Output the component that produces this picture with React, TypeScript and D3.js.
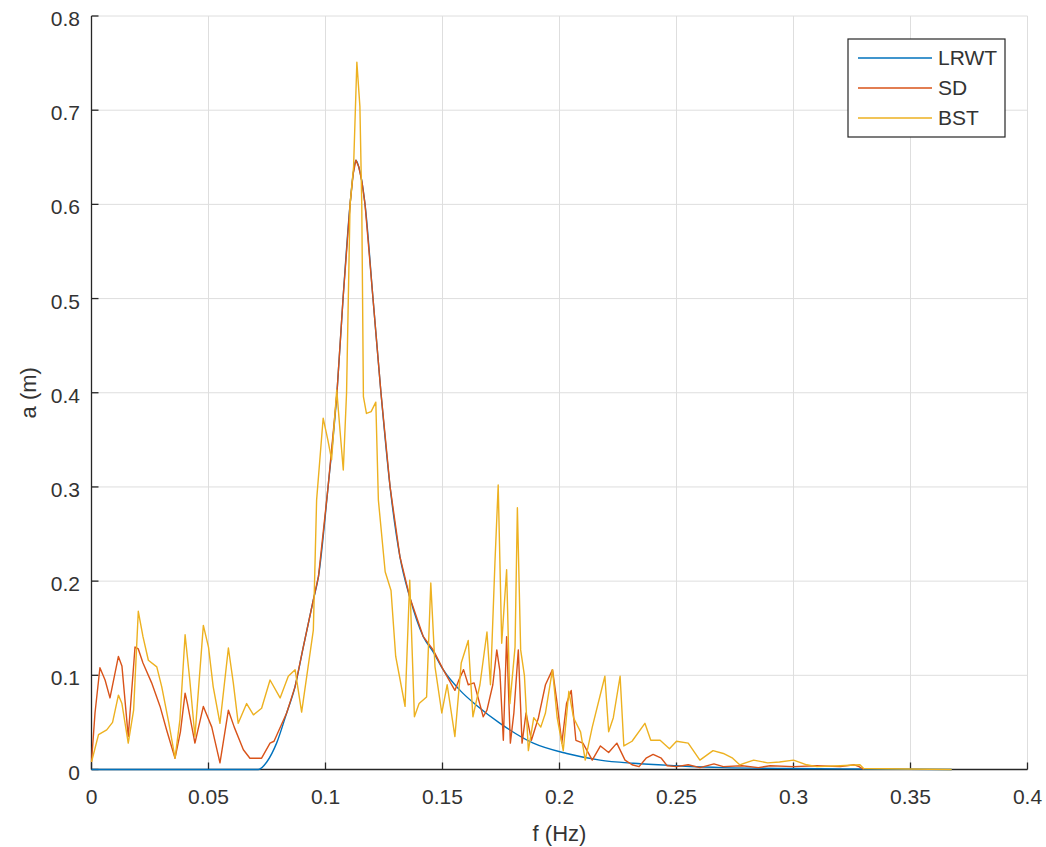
import React from "react";
import * as d3 from "d3";

// ---------- data ----------
const xTicks = [0, 0.05, 0.1, 0.15, 0.2, 0.25, 0.3, 0.35, 0.4];
const yTicks = [0, 0.1, 0.2, 0.3, 0.4, 0.5, 0.6, 0.7, 0.8];
const seriesNames = ["LRWT", "SD", "BST"];
const seriesColors = ["#0072BD", "#D95319", "#EDB120"];

const lrwtFreq = [0, 0.0713, 0.0749, 0.0791, 0.0834, 0.087, 0.0905, 0.0948, 0.097, 0.1011, 0.1049, 0.1075, 0.1105, 0.1118, 0.113, 0.1142, 0.1155, 0.1169, 0.1203, 0.1237, 0.1276, 0.1318, 0.136, 0.1418, 0.146, 0.1503, 0.1575, 0.1646, 0.1746, 0.1888, 0.2031, 0.2173, 0.2315, 0.25, 0.27, 0.3, 0.33, 0.3676];
const lrwtAmp = [0, 0, 0.008, 0.028, 0.06, 0.088, 0.13, 0.18, 0.205, 0.3, 0.4, 0.5, 0.6, 0.632, 0.647, 0.64, 0.625, 0.6, 0.5, 0.4, 0.3, 0.226, 0.183, 0.141, 0.125, 0.106, 0.084, 0.068, 0.049, 0.028, 0.017, 0.01, 0.0066, 0.004, 0.002, 0.001, 0.0005, 0];

const sdFreq = [0, 0.0015, 0.0036, 0.0058, 0.0079, 0.0115, 0.013, 0.0157, 0.0186, 0.02, 0.022, 0.0257, 0.0293, 0.0321, 0.0357, 0.038, 0.04, 0.041, 0.0442, 0.0478, 0.0514, 0.0549, 0.0585, 0.061, 0.0649, 0.0677, 0.0727, 0.0763, 0.078, 0.0834, 0.087, 0.0905, 0.0948, 0.097, 0.1011, 0.1049, 0.1075, 0.1105, 0.1118, 0.113, 0.1142, 0.1155, 0.1169, 0.1203, 0.1237, 0.1276, 0.1318, 0.136, 0.1418, 0.146, 0.1503, 0.1553, 0.157, 0.159, 0.161, 0.1635, 0.1674, 0.169, 0.1715, 0.1732, 0.1745, 0.176, 0.1774, 0.179, 0.1805, 0.1824, 0.184, 0.1857, 0.188, 0.191, 0.194, 0.197, 0.199, 0.201, 0.203, 0.205, 0.207, 0.21, 0.214, 0.2175, 0.221, 0.2245, 0.228, 0.231, 0.234, 0.237, 0.24, 0.2435, 0.246, 0.25, 0.255, 0.26, 0.266, 0.27, 0.278, 0.285, 0.29, 0.3, 0.31, 0.32, 0.326, 0.328, 0.33];
const sdAmp = [0.008, 0.06, 0.108, 0.095, 0.076, 0.12, 0.11, 0.035, 0.13, 0.128, 0.113, 0.092, 0.067, 0.042, 0.012, 0.04, 0.081, 0.07, 0.028, 0.067, 0.045, 0.007, 0.063, 0.045, 0.021, 0.012, 0.012, 0.028, 0.03, 0.06, 0.088, 0.13, 0.18, 0.205, 0.3, 0.4, 0.5, 0.6, 0.632, 0.647, 0.64, 0.625, 0.6, 0.5, 0.4, 0.3, 0.226, 0.183, 0.141, 0.127, 0.106, 0.084, 0.095, 0.106, 0.09, 0.092, 0.056, 0.063, 0.09, 0.127, 0.105, 0.031, 0.141, 0.028, 0.06, 0.127, 0.028, 0.06, 0.031, 0.055, 0.09, 0.106, 0.07, 0.028, 0.07, 0.084, 0.031, 0.028, 0.01, 0.025, 0.018, 0.028, 0.01, 0.005, 0.003, 0.012, 0.016, 0.012, 0.004, 0.003, 0.005, 0.002, 0.006, 0.003, 0.004, 0.002, 0.004, 0.003, 0.004, 0.003, 0.005, 0.003, 0];

const bstFreq = [0, 0.003, 0.0065, 0.009, 0.0115, 0.013, 0.0157, 0.018, 0.02, 0.022, 0.0243, 0.0279, 0.03, 0.033, 0.0357, 0.0378, 0.04, 0.042, 0.0442, 0.0478, 0.05, 0.052, 0.0549, 0.0585, 0.0606, 0.0627, 0.0663, 0.0692, 0.0727, 0.0763, 0.0806, 0.0841, 0.087, 0.0898, 0.0948, 0.0962, 0.099, 0.101, 0.1026, 0.1048, 0.1062, 0.1076, 0.109, 0.1105, 0.112, 0.1134, 0.1147, 0.1155, 0.1162, 0.1175, 0.1195, 0.1215, 0.1226, 0.1255, 0.128, 0.13, 0.1316, 0.134, 0.136, 0.138, 0.14, 0.1432, 0.145, 0.1468, 0.1497, 0.152, 0.1553, 0.158, 0.161, 0.163, 0.166, 0.169, 0.1705, 0.1724, 0.1738, 0.1753, 0.1774, 0.1788, 0.181, 0.182, 0.1834, 0.185, 0.1867, 0.189, 0.192, 0.194, 0.197, 0.199, 0.2016, 0.204, 0.206, 0.209, 0.211, 0.214, 0.2194, 0.221, 0.223, 0.2259, 0.2275, 0.231, 0.2365, 0.239, 0.243, 0.247, 0.25, 0.255, 0.26, 0.2656, 0.27, 0.274, 0.277, 0.283, 0.289, 0.294, 0.3, 0.3056, 0.31, 0.32, 0.3284, 0.33, 0.3676];
const bstAmp = [0.008, 0.037, 0.042, 0.05, 0.079, 0.07, 0.028, 0.063, 0.168, 0.141, 0.116, 0.109, 0.088, 0.05, 0.012, 0.053, 0.143, 0.095, 0.035, 0.153, 0.13, 0.088, 0.049, 0.129, 0.092, 0.049, 0.07, 0.058, 0.065, 0.095, 0.076, 0.099, 0.106, 0.061, 0.148, 0.286, 0.373, 0.35, 0.329, 0.403, 0.36, 0.318, 0.4, 0.6, 0.64, 0.751, 0.704, 0.6, 0.396, 0.378, 0.38, 0.39, 0.286, 0.21, 0.19, 0.12, 0.099, 0.067, 0.201, 0.056, 0.07, 0.077, 0.198, 0.109, 0.06, 0.09, 0.035, 0.113, 0.137, 0.056, 0.09, 0.146, 0.09, 0.219, 0.302, 0.134, 0.212, 0.07, 0.13, 0.278, 0.127, 0.1, 0.02, 0.055, 0.045, 0.06, 0.106, 0.055, 0.02, 0.083, 0.055, 0.04, 0.01, 0.045, 0.099, 0.04, 0.055, 0.099, 0.025, 0.03, 0.049, 0.031, 0.031, 0.022, 0.03, 0.028, 0.01, 0.02, 0.017, 0.012, 0.005, 0.01, 0.007, 0.008, 0.01, 0.005, 0.003, 0.004, 0.005, 0.001, 0];

// ---------- layout ----------
const W = 1046;
const H = 847;
const left = 91.5;
const right = 1027.5;
const top = 16;
const bottom = 769.5;
const FONT = "'Liberation Sans', Arial, Helvetica, sans-serif";
const TXT = "#333333";

export default function App() {
  const x = d3.scaleLinear().domain([0, 0.4]).range([left, right]);
  const y = d3.scaleLinear().domain([0, 0.8]).range([bottom, top]);

  const mk = (fs: number[], as: number[], curve: d3.CurveFactory) =>
    d3
      .line<number>()
      .x((_, i) => x(fs[i]))
      .y((a) => y(a))
      .curve(curve)(as) || "";

  const paths = [
    mk(lrwtFreq, lrwtAmp, d3.curveMonotoneX),
    mk(sdFreq, sdAmp, d3.curveLinear),
    mk(bstFreq, bstAmp, d3.curveLinear),
  ];

  const legX = 848;
  const legY = 39;
  const legW = 157;
  const legH = 98;

  return (
    <div style={{ position: "absolute", left: 0, top: 0 }}>
      <svg width={W} height={H} style={{ display: "block", background: "#fff" }} fontFamily={FONT}>
        <rect x={0} y={0} width={W} height={H} fill="#fff" />
        {/* grid */}
        <g stroke="#dedede" strokeWidth={1}>
          {xTicks.map((t) => (
            <line key={"gx" + t} x1={x(t)} x2={x(t)} y1={top} y2={bottom} />
          ))}
          {yTicks.map((t) => (
            <line key={"gy" + t} x1={left} x2={right} y1={y(t)} y2={y(t)} />
          ))}
        </g>
        {/* axes */}
        <g stroke="#262626" strokeWidth={1.3}>
          <line x1={left} x2={right} y1={bottom} y2={bottom} />
          <line x1={left} x2={left} y1={top} y2={bottom} />
          {xTicks.map((t) => (
            <line key={"tx" + t} x1={x(t)} x2={x(t)} y1={bottom} y2={bottom - 7} />
          ))}
          {yTicks.map((t) => (
            <line key={"ty" + t} x1={left} x2={left + 7} y1={y(t)} y2={y(t)} />
          ))}
        </g>
        {/* series */}
        {paths.map((p, i) => (
          <path key={seriesNames[i]} d={p} fill="none" stroke={seriesColors[i]} strokeWidth={1.4} strokeLinejoin="round" />
        ))}
        {/* tick labels */}
        <g fill={TXT} fontSize={21}>
          {xTicks.map((t) => (
            <text key={"lx" + t} x={x(t)} y={804} textAnchor="middle">
              {d3.format("~g")(t)}
            </text>
          ))}
          {yTicks.map((t) => (
            <text key={"ly" + t} x={80} y={y(t) + 10} textAnchor="end">
              {d3.format("~g")(t)}
            </text>
          ))}
        </g>
        {/* axis labels */}
        <text x={(left + right) / 2} y={841} textAnchor="middle" fontSize={22} fill={TXT}>
          f (Hz)
        </text>
        <text
          transform={`translate(36, ${(top + bottom) / 2}) rotate(-90)`}
          textAnchor="middle"
          fontSize={22}
          fill={TXT}
        >
          a (m)
        </text>
        {/* legend */}
        <rect x={legX} y={legY} width={legW} height={legH} fill="#fff" stroke="#262626" strokeWidth={1.2} />
        {seriesNames.map((n, i) => (
          <g key={"lg" + n}>
            <line x1={858} x2={932} y1={58 + i * 30} y2={58 + i * 30} stroke={seriesColors[i]} strokeWidth={1.4} />
            <text x={938} y={58 + i * 30 + 7} fontSize={21} fill={TXT}>
              {n}
            </text>
          </g>
        ))}
      </svg>
    </div>
  );
}
